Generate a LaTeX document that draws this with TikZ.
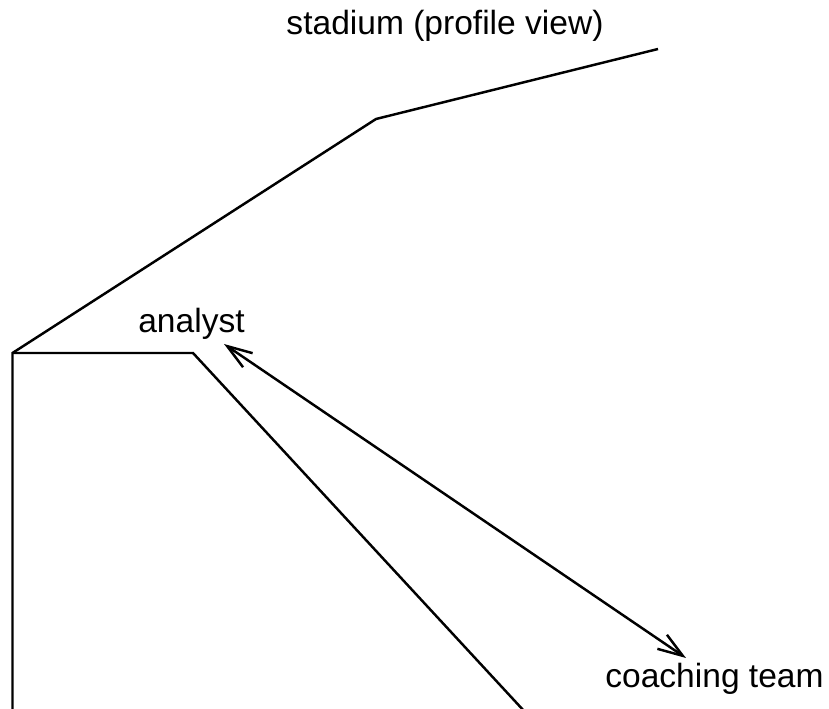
\documentclass[tikz,border=0pt]{standalone}
\usepackage{fontspec}
\setmainfont{Liberation Sans}
\usetikzlibrary{arrows.meta}
\tikzset{
  outline/.style={line width=1.4pt, line join=miter},
  link/.style={line width=1.4pt, {Straight Barb[length=5mm,width=3.4mm]}-{Straight Barb[length=5mm,width=3.4mm]}},
  lbl/.style={inner sep=0pt, anchor=base, font=\fontsize{19.1}{23}\selectfont}
}
\begin{document}
\begin{tikzpicture}[x=0.02cm, y=-0.02cm]
\useasboundingbox (0,0) rectangle (829,709);
% stadium profile points
\coordinate (rimtop) at (658,49);
\coordinate (bend) at (376,119);
\coordinate (corner) at (12.5,353);
\coordinate (base) at (12.5,712);
\coordinate (ledge) at (193,353);
\coordinate (slopeend) at (525,712);
% labels
\node[lbl] (title) at (445,35) {stadium (profile view)};
\node[lbl] (analyst) at (191.5,333) {analyst};
\node[lbl] (coach) at (714.5,687) {coaching team};
% arrow end points
\coordinate (aend) at (224,344);
\coordinate (cend) at (686,658);
% drawing
\draw[outline] (rimtop) -- (bend) -- (corner) -- (base);
\draw[outline] (corner) -- (ledge) -- (slopeend);
\draw[link] (aend) -- (cend);
\end{tikzpicture}
\end{document}
